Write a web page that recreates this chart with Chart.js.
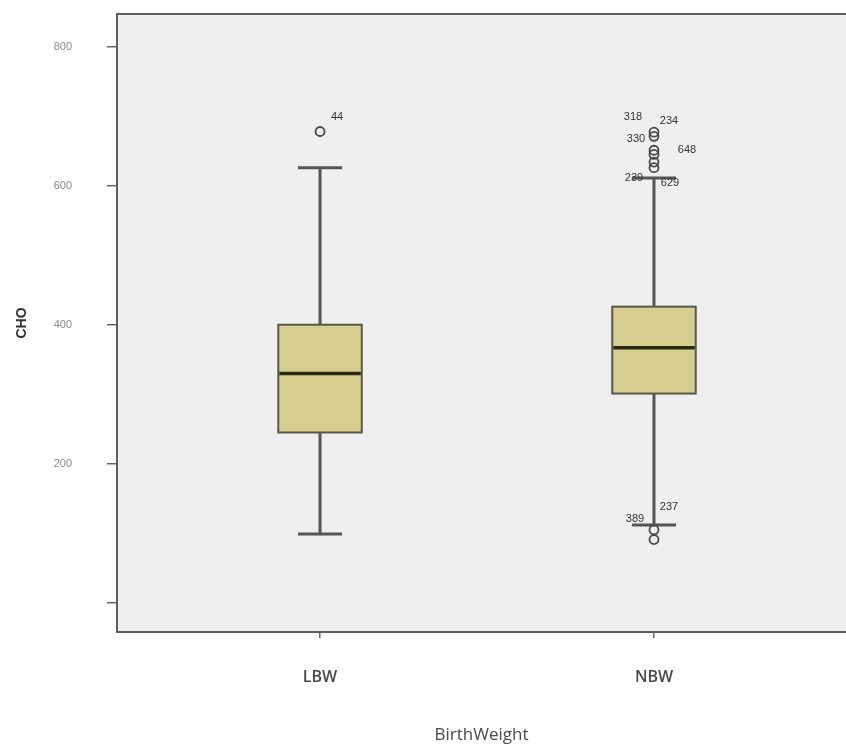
<!DOCTYPE html>
<html>
<head>
<meta charset="utf-8">
<script src="https://cdn.jsdelivr.net/npm/chart.js@4/dist/chart.umd.min.js"></script>
<style>
  html, body { margin: 0; padding: 0; background: #ffffff; }
  #wrap { width: 846px; height: 745px; }
</style>
</head>
<body>
<div id="wrap"><canvas id="c" width="846" height="745"></canvas></div>
<script>
// ---- data ----
const categories = ['LBW', 'NBW'];
const whiskerLow  = [99, 112];
const q1          = [245, 301];
const median      = [330, 367];
const q3          = [400, 426];
const whiskerHigh = [626, 611];
const outliersLBW = [678];
const outliersNBW = [677, 671, 651, 645, 634, 626, 105, 91];
const yTickValues = [0, 200, 400, 600, 800];
const yTickLabels = ['', '200', '400', '600', '800'];
const outlierLabelText  = ['44', '318', '234', '330', '648', '239', '629', '389', '237'];
const outlierLabelGroup = [0, 1, 1, 1, 1, 1, 1, 1, 1];
const outlierLabelValue = [678, 677, 677, 671, 651, 626, 626, 105, 105];

// ---- styling (pixel offsets of the case-number labels from their points) ----
const labelOffsets = [[17,-15],[-21,-15],[15,-11],[-18,3],[33,0],[-20,10],[16,15],[-19,-11],[15,-23]];
const boxHalf = 0.125, capHalf = 0.066;

const boxPlugin = {
  id: 'boxPlugin',
  beforeDraw(chart) {
    const {ctx, chartArea: a} = chart;
    ctx.save();
    ctx.fillStyle = '#efefef';
    ctx.fillRect(a.left, a.top, a.right - a.left, a.bottom - a.top);
    ctx.strokeStyle = '#5e5e5e';
    ctx.lineWidth = 2;
    ctx.beginPath();
    ctx.moveTo(a.left, a.top);
    ctx.lineTo(a.right, a.top);
    ctx.stroke();
    ctx.restore();
  },
  beforeDatasetsDraw(chart) {
    const {ctx, scales: {x, y}} = chart;
    ctx.save();
    categories.forEach((c, i) => {
      const xc = x.getPixelForValue(i + 1);
      const xl = x.getPixelForValue(i + 1 - boxHalf);
      const xr = x.getPixelForValue(i + 1 + boxHalf);
      const cl = x.getPixelForValue(i + 1 - capHalf);
      const cr = x.getPixelForValue(i + 1 + capHalf);
      const yLo = y.getPixelForValue(whiskerLow[i]);
      const yHi = y.getPixelForValue(whiskerHigh[i]);
      const yQ1 = y.getPixelForValue(q1[i]);
      const yQ3 = y.getPixelForValue(q3[i]);
      const yMd = y.getPixelForValue(median[i]);
      // whiskers
      ctx.strokeStyle = '#555555';
      ctx.lineWidth = 3;
      ctx.beginPath();
      ctx.moveTo(xc, yHi); ctx.lineTo(xc, yQ3);
      ctx.moveTo(xc, yQ1); ctx.lineTo(xc, yLo);
      ctx.moveTo(cl, yHi); ctx.lineTo(cr, yHi);
      ctx.moveTo(cl, yLo); ctx.lineTo(cr, yLo);
      ctx.stroke();
      // box
      ctx.fillStyle = '#d5ce8f';
      ctx.fillRect(xl, yQ3, xr - xl, yQ1 - yQ3);
      ctx.strokeStyle = '#5a5848';
      ctx.lineWidth = 2;
      ctx.strokeRect(xl, yQ3, xr - xl, yQ1 - yQ3);
      // median
      ctx.strokeStyle = '#2b2a14';
      ctx.lineWidth = 3.5;
      ctx.beginPath();
      ctx.moveTo(xl + 1, yMd); ctx.lineTo(xr - 1, yMd);
      ctx.stroke();
    });
    ctx.restore();
  },
  afterDatasetsDraw(chart) {
    const {ctx, scales: {x, y}} = chart;
    ctx.save();
    ctx.font = '11px "Liberation Sans", Arial, sans-serif';
    ctx.fillStyle = '#333333';
    ctx.textAlign = 'center';
    ctx.textBaseline = 'middle';
    outlierLabelText.forEach((t, i) => {
      const px = x.getPixelForValue(outlierLabelGroup[i] + 1) + labelOffsets[i][0];
      const py = y.getPixelForValue(outlierLabelValue[i]) + labelOffsets[i][1];
      ctx.fillText(t, px, py);
    });
    ctx.restore();
  }
};

const pointStyle = {
  showLine: false,
  pointStyle: 'circle',
  pointRadius: 4.5,
  pointHoverRadius: 4.5,
  pointBorderWidth: 1.8,
  pointBorderColor: '#4a4a4a',
  pointBackgroundColor: 'rgba(0,0,0,0)'
};

new Chart(document.getElementById('c'), {
  type: 'scatter',
  data: {
    datasets: [
      Object.assign({ label: categories[0], data: outliersLBW.map(v => ({x: 1, y: v})) }, pointStyle),
      Object.assign({ label: categories[1], data: outliersNBW.map(v => ({x: 2, y: v})) }, pointStyle)
    ]
  },
  options: {
    responsive: false,
    animation: false,
    events: [],
    layout: { autoPadding: false, padding: { top: 14, left: 0, right: 0, bottom: 0 } },
    plugins: { legend: { display: false }, tooltip: { enabled: false } },
    scales: {
      x: {
        type: 'linear',
        min: 0.392,
        max: 2.575,
        afterBuildTicks: s => { s.ticks = categories.map((c, i) => ({ value: i + 1 })); },
        afterFit: s => { s.height = 113; s.paddingLeft = 0; s.paddingRight = 0; s.paddingTop = 0; s.paddingBottom = 0; },
        ticks: {
          callback: v => categories[v - 1],
          font: { family: '"Open Sans", sans-serif', size: 16, weight: '600' },
          color: '#4a4a4a',
          padding: 30,
          maxRotation: 0
        },
        grid: { drawOnChartArea: false, drawTicks: true, tickLength: 6, color: '#666666', lineWidth: 1.5 },
        border: { display: true, color: '#5e5e5e', width: 2 },
        title: {
          display: true,
          text: 'BirthWeight',
          font: { family: '"Open Sans", sans-serif', size: 17, weight: '500' },
          color: '#4a4a4a',
          padding: { top: 0, bottom: 0 }
        }
      },
      y: {
        type: 'linear',
        min: -42,
        max: 847,
        afterBuildTicks: s => { s.ticks = yTickValues.map(v => ({ value: v })); },
        afterFit: s => { s.width = 117; s.paddingLeft = 0; s.paddingRight = 0; s.paddingTop = 0; s.paddingBottom = 0; },
        ticks: {
          callback: (v) => yTickLabels[yTickValues.indexOf(v)],
          font: { family: '"Liberation Sans", Arial, sans-serif', size: 11 },
          color: '#888888',
          padding: 35
        },
        grid: { drawOnChartArea: false, drawTicks: true, tickLength: 10, color: '#666666', lineWidth: 1.5 },
        border: { display: true, color: '#5e5e5e', width: 2 },
        title: {
          display: true,
          text: 'CHO',
          font: { family: '"Liberation Sans", Arial, sans-serif', size: 14, weight: 'bold' },
          color: '#333333',
          padding: { top: 14, bottom: 0 }
        }
      }
    }
  },
  plugins: [boxPlugin]
});
</script>
</body>
</html>
